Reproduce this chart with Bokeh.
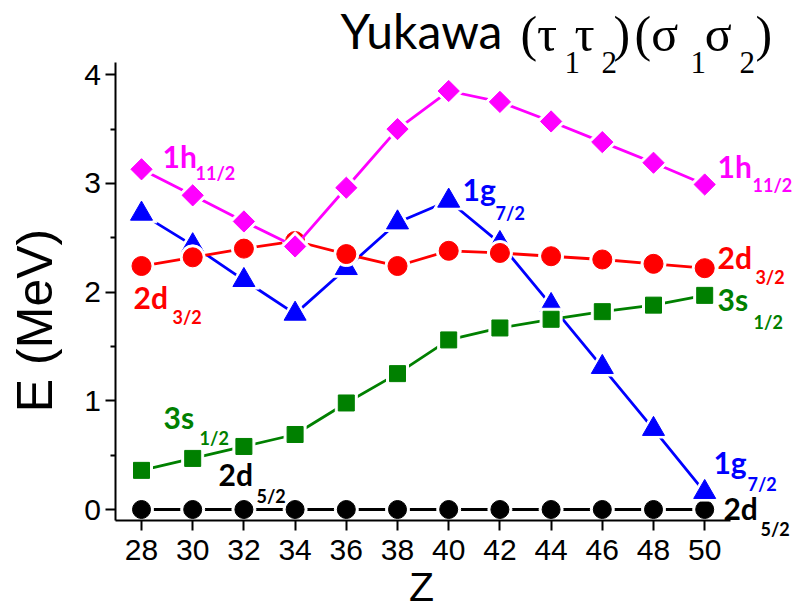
import math
from bokeh.plotting import figure
from bokeh.models import Range1d, FixedTicker, Label
from bokeh.embed import file_html
from bokeh.resources import INLINE

# ---- data ----
Z = [28, 30, 32, 34, 36, 38, 40, 42, 44, 46, 48, 50]
E_1h11 = [3.13, 2.89, 2.65, 2.42, 2.96, 3.50, 3.85, 3.75, 3.57, 3.38, 3.19, 2.99]
E_2d32 = [2.24, 2.32, 2.40, 2.47, 2.35, 2.24, 2.38, 2.36, 2.33, 2.30, 2.26, 2.22]
E_1g72 = [2.72, 2.43, 2.11, 1.80, 2.22, 2.64, 2.84, 2.45, 1.88, 1.31, 0.74, 0.16]
E_3s12 = [0.36, 0.47, 0.58, 0.69, 0.98, 1.25, 1.56, 1.67, 1.75, 1.82, 1.88, 1.97]
E_2d52 = [0, 0, 0, 0, 0, 0, 0, 0, 0, 0, 0, 0]

y_ticks = [0, 1, 2, 3, 4]
y_minor = [0.5, 1.5, 2.5, 3.5]

# level labels: main text, subscript, colour
lab_main = ["1h", "1h", "2d", "2d", "3s", "3s", "2d", "2d", "1g", "1g"]
lab_sub = ["11/2", "11/2", "3/2", "3/2", "1/2", "1/2", "5/2", "5/2", "7/2", "7/2"]
lab_col = ["#FF00FF", "#FF00FF", "#FF0000", "#FF0000", "#008000", "#008000",
           "black", "black", "#0000FF", "#0000FF"]
# anchor positions (data units) of main text baseline and subscript baseline
lab_x = [28.82, 50.50, 50.50, 27.69, 50.50, 28.86, 31.01, 50.73, 50.34, 40.54]
lab_y = [3.146, 3.054, 2.217, 1.849, 1.831, 0.745, 0.221, -0.092, 0.331, 2.843]
sub_x = [30.11, 51.87, 51.98, 29.21, 51.91, 30.27, 32.49, 52.18, 51.67, 41.83]
sub_y = [3.036, 2.925, 2.079, 1.711, 1.665, 0.598, 0.064, -0.239, 0.175, 2.668]

W, H = 792, 613
PX_X = 25.6     # pixels per unit of Z
PX_Y = 108.7    # pixels per MeV
x0 = 28 - 141 / PX_X
y1 = 509 / PX_Y
BASE = 0.37     # baseline correction, fraction of font size

p = figure(width=W, height=H, output_backend="svg", toolbar_location=None,
           x_range=Range1d(x0, x0 + W / PX_X), y_range=Range1d(y1 - H / PX_Y, y1),
           min_border=0, min_border_left=0, min_border_right=0,
           min_border_top=0, min_border_bottom=0)
p.outline_line_color = None
p.grid.visible = False
p.background_fill_color = "white"
p.border_fill_color = "white"

series = [
    (E_2d52, "black", "circle", 18, 0.0, 6),
    (E_1g72, "#0000FF", "triangle", 22, 0.0, 9),
    (E_3s12, "#008000", "square", 16, 0.0, 6),
    (E_2d32, "#FF0000", "circle", 19, 0.0, 6),
    (E_1h11, "#FF00FF", "square", 15, math.pi / 4, 6),
]
for ys, col, mk, sz, ang, halo in series:
    p.line(Z, ys, line_color=col, line_width=2.8)
    p.scatter(Z, ys, marker=mk, size=sz + halo, angle=ang,
              fill_color="white", line_color="white")
    p.scatter(Z, ys, marker=mk, size=sz, angle=ang,
              fill_color=col, line_color=col)

# axes (kept in their side panels, drawn at a fixed data location)
p.xaxis.ticker = FixedTicker(ticks=Z, minor_ticks=[])
p.yaxis.ticker = FixedTicker(ticks=y_ticks, minor_ticks=y_minor)
p.xaxis.fixed_location = -0.1
p.yaxis.fixed_location = 27
p.xaxis.bounds = (27, 51)
p.yaxis.bounds = (-0.1, 4.11)
for ax in (p.xaxis[0], p.yaxis[0]):
    ax.axis_line_width = 2
    ax.axis_line_color = "black"
    ax.major_tick_line_width = 2
    ax.minor_tick_line_width = 2
    ax.major_tick_out = 10
    ax.major_tick_in = 0
    ax.minor_tick_out = 5
    ax.minor_tick_in = 0
    ax.major_label_text_font = "Liberation Sans"
    ax.major_label_text_font_size = "30px"
    ax.major_label_text_color = "black"
p.xaxis.major_label_standoff = 10
p.yaxis.major_label_standoff = 5


def add_text(text, x, y, size, font, style="normal", color="black", angle=0.0,
             align="left"):
    dy = BASE * size
    p.add_layout(Label(x=x, y=y, text=text, angle=angle, text_align=align,
                       text_baseline="alphabetic", text_font=font,
                       text_font_style=style, text_font_size=f"{size}px",
                       text_color=color,
                       x_offset=-dy * math.sin(angle), y_offset=dy * math.cos(angle)))


# axis titles
add_text("E (MeV)", 24.56, 1.739, 50, "Liberation Sans", angle=math.pi / 2, align="center")
add_text("Z", 38.94, -0.856, 41, "Liberation Sans", align="center")

# level labels
for t, s, c, x, y, sx, sy in zip(lab_main, lab_sub, lab_col, lab_x, lab_y, sub_x, sub_y):
    add_text(t, x, y, 30, "Lato", "bold", c)
    add_text(s, sx, sy, 18, "Lato", "bold", c)

# title
add_text("Yukawa", 35.77, 4.241, 48, "Lato")
title_parts = [("(\u03c4", 42.80, 4.204, 50), ("1", 44.52, 4.011, 31),
               ("\u03c4", 44.91, 4.204, 50), ("2", 45.97, 4.011, 31),
               (")", 46.44, 4.204, 50), ("(\u03c3", 47.26, 4.204, 50),
               ("1", 49.45, 4.011, 31), ("\u03c3", 50.00, 4.204, 50),
               ("2", 51.36, 4.011, 31), (")", 51.98, 4.204, 50)]
for t, x, y, fs in title_parts:
    add_text(t, x, y, fs, "Liberation Serif")

open("out.html", "w").write(file_html(p, INLINE))
